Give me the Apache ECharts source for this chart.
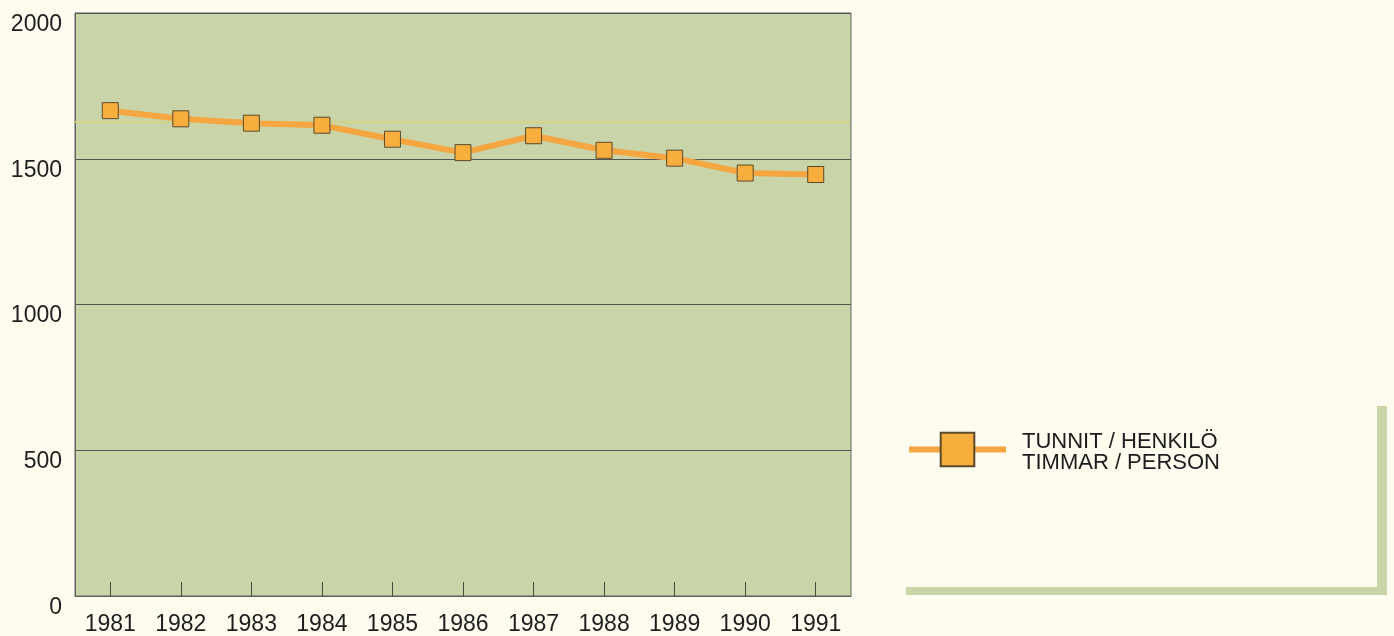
<!DOCTYPE html>
<html>
<head>
<meta charset="utf-8">
<script src="https://cdn.jsdelivr.net/npm/echarts@6/dist/echarts.min.js"></script>
<style>
  html, body { margin: 0; padding: 0; background: #fdfcee; }
  #chart { width: 1394px; height: 636px; }
</style>
</head>
<body>
<div id="chart"></div>
<script>
// Working hours per person, 1981–1991
const years = ['1981', '1982', '1983', '1984', '1985', '1986', '1987', '1988', '1989', '1990', '1991'];
const hoursPerPerson = [1665, 1637, 1622, 1615, 1567, 1521, 1579, 1529, 1502, 1451, 1446];
const seriesName = 'TUNNIT / HENKILÖ\nTIMMAR / PERSON';
const yTicks = [0, 500, 1000, 1500, 2000];
const referenceLevel = 1626;

const FONT = '"Liberation Sans", Arial, Helvetica, sans-serif';
const plotGreen = '#c9d4a9';
const lineOrange = '#f6a640';

const chart = echarts.init(document.getElementById('chart'), null, { renderer: 'canvas' });

chart.setOption({
  backgroundColor: '#fdfcee',
  animation: false,
  textStyle: { fontFamily: FONT },
  grid: {
    left: 75, right: 543, top: 13, bottom: 39,
    show: true,
    backgroundColor: plotGreen,
    borderColor: '#5d6360',
    borderWidth: 1
  },
  legend: {
    left: 906, top: 428,
    padding: 0,
    orient: 'vertical',
    itemWidth: 97, itemHeight: 42,
    lineStyle: { width: 6, color: lineOrange },
    // small spacer line on top so the two text lines sit slightly below the icon's centre
    formatter: (name) => '{s| }\n' + name.split('\n').map((l) => '{t|' + l + '}').join('\n'),
    textStyle: {
      color: '#1c1c1c', fontFamily: FONT, padding: [0, 0, 0, 11],
      rich: {
        s: { fontSize: 1, lineHeight: 5 },
        t: { fontSize: 22, lineHeight: 21, color: '#1c1c1c', fontFamily: FONT }
      }
    },
    data: [seriesName]
  },
  xAxis: {
    type: 'category',
    data: years,
    boundaryGap: true,
    axisLine: { show: true, lineStyle: { color: '#5d6360', width: 1 } },
    axisTick: { show: true, alignWithLabel: true, inside: true, length: 14, lineStyle: { color: '#4a4a40', width: 1 } },
    axisLabel: { fontSize: 23, color: '#1e1e1e', margin: 17, fontFamily: FONT },
    splitLine: { show: false }
  },
  yAxis: {
    type: 'value',
    min: yTicks[0],
    max: yTicks[yTicks.length - 1],
    interval: 500,
    axisLine: { show: true, lineStyle: { color: '#5d6360', width: 1 } },
    axisTick: { show: false },
    axisLabel: {
      fontSize: 23, color: '#1e1e1e', margin: 13, fontFamily: FONT,
      verticalAlign: 'top',
      formatter: (v) => String(v)
    },
    splitLine: { show: true, lineStyle: { color: '#4f5550', width: 1 } }
  },
  series: [{
    name: seriesName,
    type: 'line',
    data: hoursPerPerson,
    symbol: 'rect',
    symbolSize: 16,
    lineStyle: { color: lineOrange, width: 6 },
    itemStyle: { color: '#f8ae3c', borderColor: '#5b4a2c', borderWidth: 1 },
    z: 5,
    markLine: {
      silent: true,
      symbol: ['none', 'none'],
      label: { show: false },
      lineStyle: { color: '#ddd066', type: 'dotted', width: 2 },
      data: [{ yAxis: referenceLevel }]
    }
  }],
  graphic: [
    // decorative L-shaped frame around the legend panel
    { type: 'rect', shape: { x: 1377, y: 406, width: 10, height: 189 }, style: { fill: plotGreen }, silent: true },
    { type: 'rect', shape: { x: 906, y: 587, width: 481, height: 8 }, style: { fill: plotGreen }, silent: true }
  ]
});
</script>
</body>
</html>
